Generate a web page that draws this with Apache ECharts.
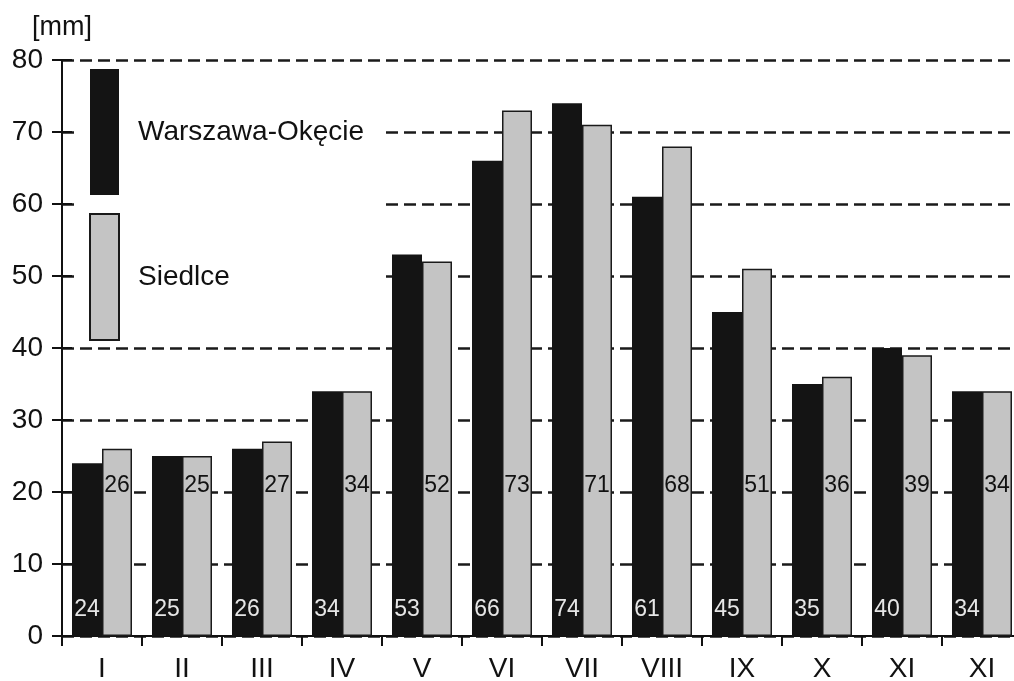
<!DOCTYPE html>
<html>
<head>
<meta charset="utf-8">
<script src="https://cdn.jsdelivr.net/npm/echarts@6/dist/echarts.min.js"></script>
<style>
html,body{margin:0;padding:0;background:#fff;overflow:hidden;}
#c{width:1030px;height:681px;}
</style>
</head>
<body>
<div id="c"></div>
<script>
const months = ['I','II','III','IV','V','VI','VII','VIII','IX','X','XI','XI'];
const warszawa = [24,25,26,34,53,66,74,61,45,35,40,34];
const siedlce = [26,25,27,34,52,73,71,68,51,36,39,34];
const yTicks = {min:0, max:80, interval:10};

const FONT = '"Liberation Sans", Arial, sans-serif';
const chart = echarts.init(document.getElementById('c'), null, {renderer:'canvas'});
chart.setOption({
  backgroundColor:'#fff',
  animation:false,
  textStyle:{fontFamily:FONT, color:'#111'},
  grid:{left:62, right:8, top:60, bottom:45, containLabel:false, outerBoundsMode:'none'},
  legend:{
    orient:'vertical', left:75, top:65,
    padding:[4,16,4,14],
    backgroundColor:'#fff',
    icon:'rect',
    itemWidth:29, itemHeight:126, itemGap:18, itemTextGap:20,
    textStyle:{fontFamily:FONT, fontSize:28, color:'#111', padding:[0,0,0,14]},
    data:['Warszawa-Okęcie','Siedlce']
  },
  xAxis:{
    type:'category', data:months, boundaryGap:true,
    axisLine:{lineStyle:{color:'#111', width:2}},
    axisTick:{show:true, length:10, lineStyle:{color:'#111', width:2}},
    axisLabel:{fontFamily:FONT, fontSize:28, color:'#111', margin:19, interval:0}
  },
  yAxis:[{
    type:'value', min:yTicks.min, max:yTicks.max, interval:yTicks.interval,
    name:'[mm]', nameLocation:'end', nameGap:19,
    nameTextStyle:{fontFamily:FONT, fontSize:27, color:'#111', align:'center'},
    axisLine:{show:true, lineStyle:{color:'#111', width:2}},
    axisTick:{show:true, length:10, lineStyle:{color:'#111', width:2}},
    axisLabel:{fontFamily:FONT, fontSize:28, color:'#111', margin:19},
    splitLine:{show:true, lineStyle:{color:'#1a1a1a', width:2.5, type:[12,6]}}
  },{
    type:'value', min:yTicks.min, max:yTicks.max, interval:yTicks.interval, position:'left',
    axisLine:{show:false}, axisLabel:{show:false}, splitLine:{show:false},
    axisTick:{show:true, inside:true, length:10, lineStyle:{color:'#111', width:2}}
  }],
  series:[{
    name:'Warszawa-Okęcie', type:'bar', data:warszawa, yAxisIndex:0,
    barWidth:30, barGap:'0%',
    itemStyle:{color:'#141414'},
    label:{show:true, position:'insideBottom', distance:15, fontFamily:FONT, fontSize:23, color:'#e6e6e6'}
  },{
    name:'Siedlce', type:'bar', data:siedlce, yAxisIndex:0,
    barWidth:30, barGap:'0%',
    itemStyle:{color:'#c4c4c4', borderColor:'#1a1a1a', borderWidth:1.5},
    label:{show:true, position:'insideBottom', distance:139, fontFamily:FONT, fontSize:23, color:'#111'}
  }]
});
</script>
</body>
</html>
